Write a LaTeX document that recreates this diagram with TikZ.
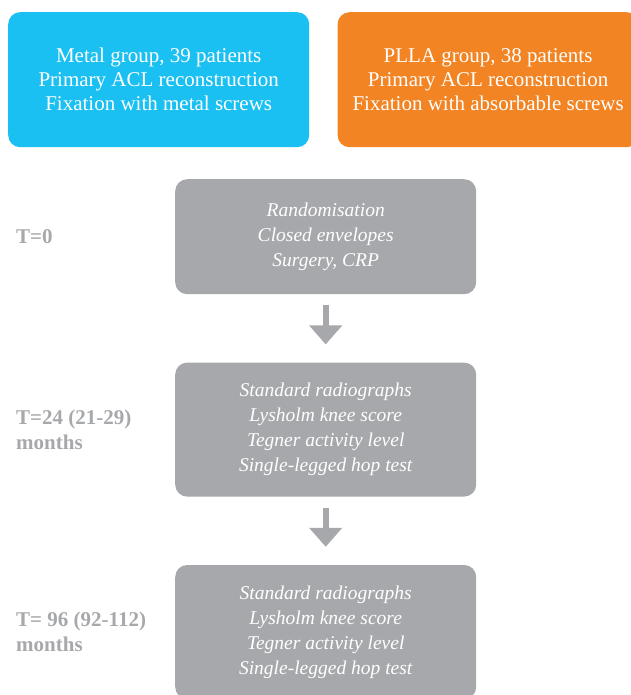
\documentclass[tikz,border=0pt]{standalone}
\usepackage{fontspec}
\setmainfont{Liberation Serif}
\usetikzlibrary{arrows.meta, positioning}
\definecolor{metalblue}{HTML}{19C0F1}
\definecolor{pllaorange}{HTML}{F28423}
\definecolor{boxgray}{HTML}{A7A8AB}

\begin{document}
\begin{tikzpicture}[
  x=1pt, y=1pt,
  g/.style={rectangle, rounded corners=12pt, minimum width=301pt, align=center,
            text=white, inner sep=0pt, font=\fontsize{21}{24}\selectfont},
  t/.style={g, fill=boxgray, font=\fontsize{19.5}{25}\selectfont\itshape},
  lbl/.style={anchor=west, align=left, text=boxgray, inner sep=0pt,
              font=\fontsize{21}{25}\selectfont\bfseries},
  a/.style={-{Triangle[width=32pt, length=19pt]}, line width=6pt, draw=boxgray},
  node distance=68pt and 28pt,
]
  \useasboundingbox (0,0) rectangle (630,-695);

  \node[g, fill=metalblue, minimum height=135pt, anchor=north west] (metal) at (8,-12)
    {Metal group, 39 patients\\Primary ACL reconstruction\\Fixation with metal screws};
  \node[g, fill=pllaorange, minimum height=135pt, right=of metal] (plla)
    {PLLA group, 38 patients\\Primary ACL reconstruction\\Fixation with absorbable screws};

  \node[t, minimum height=115pt, anchor=north west] (rand) at (175,-179)
    {Randomisation\\Closed envelopes\\Surgery, CRP};
  \node[t, minimum height=134pt, below=of rand] (fu24)
    {Standard radiographs\\Lysholm knee score\\Tegner activity level\\Single-legged hop test};
  \node[t, minimum height=134pt, below=of fu24] (fu96)
    {Standard radiographs\\Lysholm knee score\\Tegner activity level\\Single-legged hop test};

  \coordinate (lm) at (16,0);
  \node[lbl] (t0)  at (rand.west -| lm) {T=0};
  \node[lbl] (t24) at (fu24.west -| lm) {T=24 (21-29)\\months};
  \node[lbl] (t96) at (fu96.west -| lm) {T= 96 (92-112)\\months};

  \draw[a, shorten <=11pt, shorten >=18pt] (rand) -- (fu24);
  \draw[a, shorten <=11pt, shorten >=18pt] (fu24) -- (fu96);
\end{tikzpicture}
\end{document}
